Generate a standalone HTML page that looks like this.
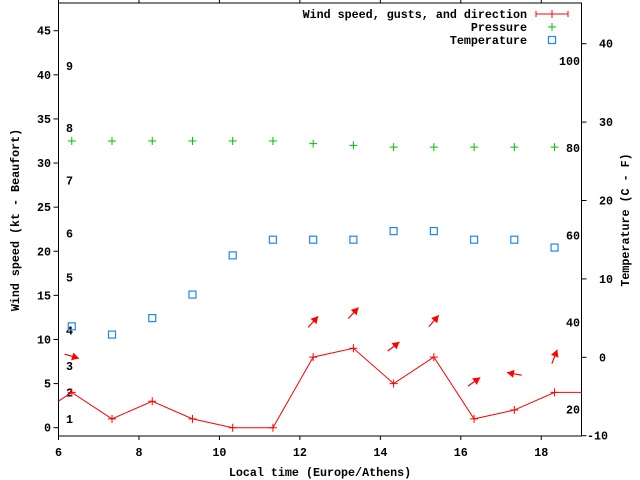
<!DOCTYPE html>
<html><head><meta charset="utf-8"><style>
body{margin:0;background:#fff}
svg{display:block}
text{font-family:"Liberation Mono",monospace;font-weight:bold;font-size:11.7px;fill:#000}
</style></head><body>
<svg id="c" width="640" height="480"></svg>
<script>
const times=[5.33,6.33,7.33,8.33,9.33,10.33,11.33,12.33,13.33,14.33,15.33,16.33,17.33,18.33,19.33];
const windSpeed=[1,4,1,3,1,0,0,8,9,5,8,1,2,4,4];
const pTimes=[6.33,7.33,8.33,9.33,10.33,11.33,12.33,13.33,14.33,15.33,16.33,17.33,18.33];
const pressure=[32.5,32.5,32.5,32.5,32.5,32.5,32.2,32.0,31.8,31.8,31.8,31.8,31.8];
const temperature=[3.95,2.9,5.0,8.0,13.0,15.0,15.0,15.0,16.1,16.1,15.0,15.0,14.0];
const arrowTimes=[6.33,12.33,13.33,14.33,15.33,16.33,17.33,18.33];
const arrowGust=[8.1,12.0,13.0,9.2,12.1,5.2,6.1,8.05];
const arrowDir=[-17,48,47,38,49,35,170,69];
const xTicks=[6,8,10,12,14,16,18];
const yTicks=[0,5,10,15,20,25,30,35,40,45];
const tTicks=[-10,0,10,20,30,40];
const fTicks=[20,40,60,80,100];
const bft=[1,2,3,4,5,6,7,8,9];
const bftKt=[1,4,7,11,17,22,28,34,41];

const L=58.5,R=581.5,T=3,B=436;
const X=t=>L+(t-6)*(R-L)/13;
const Y=v=>427.7-v*8.822;
const YT=c=>357.3-c*7.84;
const svg=document.getElementById('c');
const NS='http://www.w3.org/2000/svg';
function mk(tag,at,parent){const e=document.createElementNS(NS,tag);for(const k in at)e.setAttribute(k,at[k]);(parent||svg).appendChild(e);return e;}
function txt(s,x,y,anchor,parent){const e=mk('text',{x:x,y:y,'text-anchor':anchor||'start'},parent);e.textContent=s;return e;}

// clip
const defs=mk('defs',{});
const cp=mk('clipPath',{id:'pc'},defs);mk('rect',{x:L,y:T,width:R-L,height:B-T},cp);

// axes frame
const frame=mk('path',{d:`M${L},${T}V${B}H${R}V${T}H${L}`,fill:'none',stroke:'#000','stroke-width':1});


xTicks.forEach(t=>{const x=X(t);
 const tk=mk('path',{d:`M${x},${B}v4M${x},${T}v-4`,stroke:'#000'});
 
 const l=txt(String(t),x,456,'middle');});
yTicks.forEach(v=>{const y=Y(v);
 const tk=mk('path',{d:`M${L},${y}h-5`,stroke:'#000'});
 
 const l=txt(String(v),51,y+4,'end');});
tTicks.forEach(c=>{const y=YT(c);
 const tk=mk('path',{d:`M${R},${y}h5`,stroke:'#000'});
 
 const l=txt(String(c),c<0?587:599,y+4,'start');});
fTicks.forEach(f=>{const y=YT((f-32)*5/9);
 const l=txt(String(f),580,y+4,'end');});
bft.forEach((b,i)=>{const y=Y(bftKt[i]);
 const l=txt(String(b),66,y+4,'start');});

const g=mk('g',{'clip-path':'url(#pc)'});

// wind line
const wl=mk('polyline',{points:times.map((t,i)=>X(t)+','+Y(windSpeed[i])).join(' '),fill:'none',stroke:'#f00','stroke-width':1},g);

times.forEach((t,i)=>{const x=X(t),y=Y(windSpeed[i]);
 const p=mk('path',{d:`M${x-4},${y}h8M${x},${y-4}v8`,stroke:'#f00'},g);
 });
// arrows
arrowTimes.forEach((t,i)=>{const cx=X(t),cy=Y(arrowGust[i]);const a=arrowDir[i]*Math.PI/180;
 const dx=Math.cos(a)*7.5,dy=-Math.sin(a)*7.5;
 const x1=cx-dx,y1=cy-dy,x2=cx+dx,y2=cy+dy;
 const ux=dx/7.5,uy=dy/7.5;
 const hx=x2-ux*7,hy=y2-uy*7;
 const grp=mk('g',{},g);
 
 mk('line',{x1:x1,y1:y1,x2:x2,y2:y2,stroke:'#f00','stroke-width':1.2},grp);
 mk('polygon',{points:`${x2},${y2} ${hx-uy*4},${hy+ux*4} ${hx+uy*4},${hy-ux*4}`,fill:'#f00'},grp);});
// pressure
pTimes.forEach((t,i)=>{const x=X(t),y=Y(pressure[i]);
 const p=mk('path',{d:`M${x-4},${y}h8M${x},${y-4}v8`,stroke:'#00c000'},g);
 });
// temperature
pTimes.forEach((t,i)=>{const x=X(t),y=YT(temperature[i]);
 const p=mk('rect',{x:x-3.5,y:y-3.5,width:7,height:7,fill:'none',stroke:'#1e88f0','stroke-width':1.2},g);
 });

// legend
const lg=mk('g',{});
const e1=txt('Wind speed, gusts, and direction',527,18,'end',lg);
mk('path',{d:'M536,14h32M536,11v6M568,11v6M552,10v8',stroke:'#f00'},lg);
const e2=txt('Pressure',527,31,'end',lg);
mk('path',{d:'M548,27h8M552,23v8',stroke:'#00c000'},lg);
const e3=txt('Temperature',527,44,'end',lg);
mk('rect',{x:548.5,y:36.5,width:7,height:7,fill:'none',stroke:'#1e88f0','stroke-width':1.2},lg);

// axis titles
const xt=txt('Local time (Europe/Athens)',320,476,'middle');
const yt=txt('Wind speed (kt - Beaufort)',0,0,'middle');yt.setAttribute('transform','translate(19,220) rotate(-90)');
const y2=txt('Temperature (C - F)',0,0,'middle');y2.setAttribute('transform','translate(629,220) rotate(-90)');
</script>
</body></html>
